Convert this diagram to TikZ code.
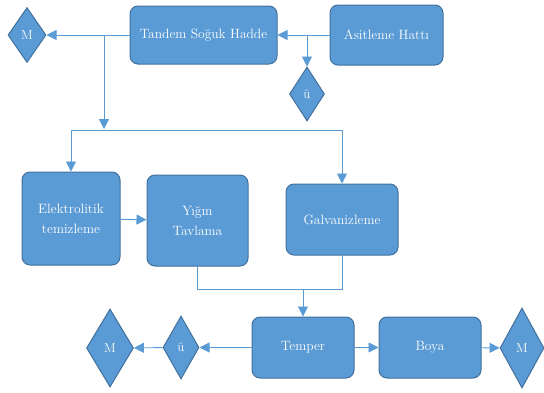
\documentclass[tikz,border=0pt]{standalone}
\usepackage{tikz}
\usetikzlibrary{positioning,arrows.meta,shapes.geometric,calc}
\definecolor{boxblue}{HTML}{5B9BD5}
\definecolor{edgeblue}{HTML}{41719C}

\begin{document}
\begin{tikzpicture}[
  x=1pt, y=-1pt,
  font=\fontsize{13.5}{20}\selectfont,
  >={Triangle[width=10pt,length=10pt]},
  procbox/.style={rectangle, rounded corners=8pt, draw=edgeblue, fill=boxblue, line width=1pt, text=white, align=center, inner sep=2pt},
  decnode/.style={diamond, draw=edgeblue, fill=boxblue, line width=1pt, text=white, inner sep=0pt, font=\fontsize{13}{15}\selectfont},
  flowmap/.style={->, draw=boxblue, line width=0.9pt},
  flowline/.style={draw=boxblue, line width=0.9pt}
]
  \useasboundingbox (0,0) rectangle (544,392);
  % top row
  \node[procbox, minimum width=147pt, minimum height=58pt] (tandem) at (203.5,35) {Tandem Soğuk Hadde};
  \node[procbox, minimum width=113pt, minimum height=60pt] (asit) at (386.5,35) {Asitleme Hattı};
  \node[decnode, minimum width=38pt, minimum height=55pt] (mtop) at (27,35) {M};
  \node[decnode, minimum width=35pt, minimum height=54pt] (utop) at (307,94) {ü};
  \draw[flowmap] (asit) -- (tandem);
  \draw[flowmap] (utop.north |- tandem.east) -- (utop.north);
  \draw[flowmap] (tandem) -- (mtop);
  % middle row
  \node[procbox, minimum width=98pt, minimum height=93pt] (elek) at (71,218.5) {Elektrolitik\\temizleme};
  \node[procbox, minimum width=101pt, minimum height=91pt] (yigin) at (197.5,220.5) {Yığın\\Tavlama};
  \node[procbox, minimum width=112pt, minimum height=71pt] (galv) at (342,219.5) {Galvanizleme};
  \coordinate (bus) at (104,130);
  \draw[flowmap] (tandem.west -| bus) -- ($(bus)+(0,-1)$);
  \draw[flowline] (elek.north |- bus) -- (galv.north |- bus);
  \draw[flowmap] (elek.north |- bus) -- (elek.north);
  \draw[flowmap] (galv.north |- bus) -- (galv.north);
  \draw[flowmap] (elek) -- (yigin);
  % bottom row
  \node[procbox, minimum width=102pt, minimum height=61pt] (temper) at (303,347.5) {Temper};
  \node[procbox, minimum width=102pt, minimum height=61pt] (boya) at (430,347.5) {Boya};
  \node[decnode, minimum width=36pt, minimum height=63pt] (ubot) at (181,347.5) {ü};
  \node[decnode, minimum width=47pt, minimum height=78pt] (mleft) at (110,348) {M};
  \node[decnode, minimum width=44pt, minimum height=80pt] (mright) at (522,348) {M};
  \coordinate (join) at (303,289);
  \draw[flowline] (yigin.south) -- (yigin.south |- join) -- (galv.south |- join) -- (galv.south);
  \draw[flowmap] (join) -- (temper.north);
  \draw[flowmap] (temper) -- (ubot);
  \draw[flowmap] (ubot) -- (mleft);
  \draw[flowmap] (temper) -- (boya);
  \draw[flowmap] (boya) -- (mright);
\end{tikzpicture}
\end{document}
